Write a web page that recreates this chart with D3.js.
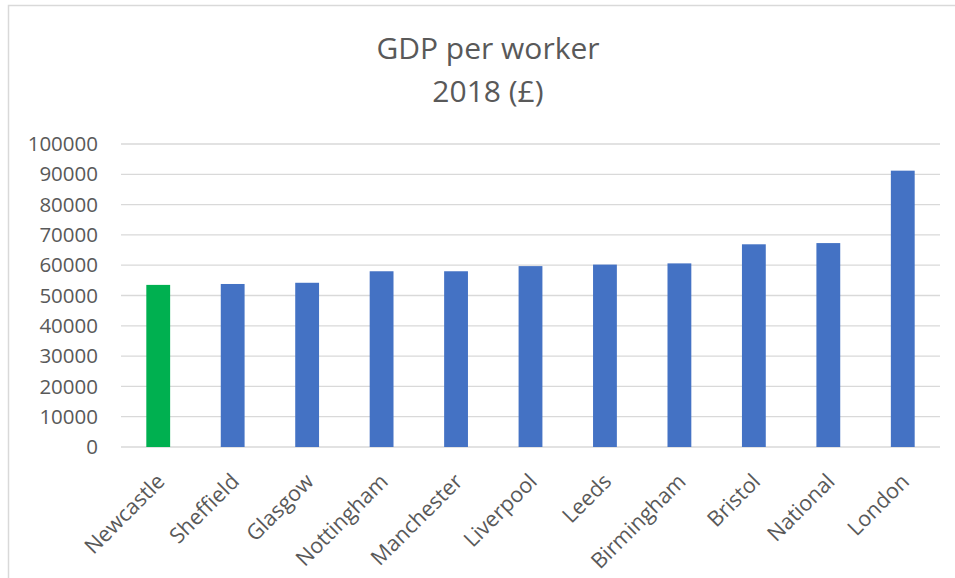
<!DOCTYPE html>
<html>
<head>
<meta charset="utf-8">
<script src="https://cdn.jsdelivr.net/npm/d3@7"></script>
<style>
  body { margin: 0; background: #fff; }
  text { font-family: "Open Sans", sans-serif; fill: #595959; }
</style>
</head>
<body>
<svg id="chart" width="955" height="578"></svg>
<script>
// Cities and their GDP per worker (2018, £)
const cities = ["Newcastle", "Sheffield", "Glasgow", "Nottingham", "Manchester",
  "Liverpool", "Leeds", "Birmingham", "Bristol", "National", "London"];
const gdp = [53500, 53800, 54200, 58000, 58000, 59700, 60200, 60600, 66900, 67300, 91200];
const highlight = ["Newcastle"];
const yTicks = [0, 10000, 20000, 30000, 40000, 50000, 60000, 70000, 80000, 90000, 100000];
const titleLines = ["GDP per worker", "2018 (£)"];

const BLUE = "#4472C4";
const GREEN = "#00B050";
const GRID = "#d9d9d9";

const svg = d3.select("#chart");

// Chart frame (runs off the right and bottom edges)
svg.append("rect")
  .attr("x", 8.5).attr("y", 5.5)
  .attr("width", 1000).attr("height", 700)
  .attr("fill", "#fff")
  .attr("stroke", GRID)
  .attr("stroke-width", 1.5);

const plotLeft = 121, plotRight = 940, plotTop = 144, plotBottom = 447;

const x = d3.scaleBand().domain(cities).range([plotLeft, plotRight]).paddingInner(0.68).paddingOuter(0.34);
const y = d3.scaleLinear().domain([0, 100000]).range([plotBottom, plotTop]);

// Gridlines
svg.append("g")
  .selectAll("line")
  .data(yTicks)
  .join("line")
  .attr("x1", plotLeft).attr("x2", plotRight)
  .attr("y1", (d) => y(d)).attr("y2", (d) => y(d))
  .attr("stroke", GRID)
  .attr("stroke-width", 1.3);

// Y axis labels
svg.append("g")
  .selectAll("text")
  .data(yTicks)
  .join("text")
  .attr("x", 98)
  .attr("y", (d) => y(d))
  .attr("dy", "0.35em")
  .attr("text-anchor", "end")
  .style("font-size", "20.5px")
  .text((d) => d);

// Bars
svg.append("g")
  .selectAll("rect")
  .data(cities)
  .join("rect")
  .attr("x", (d) => x(d))
  .attr("width", x.bandwidth())
  .attr("y", (d, i) => y(gdp[i]))
  .attr("height", (d, i) => y(0) - y(gdp[i]))
  .attr("fill", (d) => (highlight.includes(d) ? GREEN : BLUE));

// Category labels, rotated
svg.append("g")
  .selectAll("text")
  .data(cities)
  .join("text")
  .attr("transform", (d) => `translate(${x(d) + x.bandwidth() / 2 - 3},${472}) rotate(-45)`)
  .attr("dy", "0.71em")
  .attr("text-anchor", "end")
  .style("font-size", "21.5px")
  .text((d) => d);

// Title
svg.append("g")
  .selectAll("text")
  .data(titleLines)
  .join("text")
  .attr("x", 488)
  .attr("y", (d, i) => 59 + i * 43)
  .attr("text-anchor", "middle")
  .style("font-size", "30px")
  .text((d) => d);
</script>
</body>
</html>
